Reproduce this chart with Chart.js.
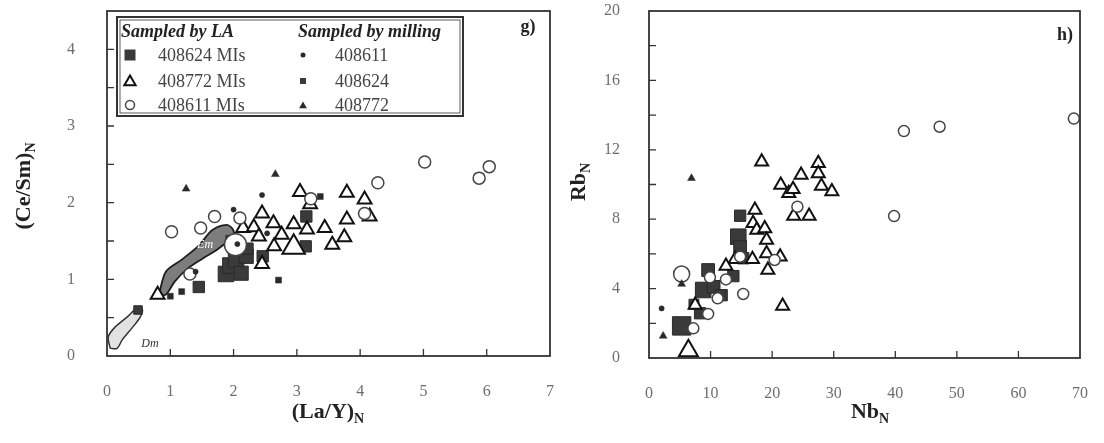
<!DOCTYPE html>
<html>
<head>
<meta charset="utf-8">
<script src="https://cdn.jsdelivr.net/npm/chart.js@4.4.1/dist/chart.umd.min.js"></script>
<style>
  html, body { margin: 0; padding: 0; background: #fff; }
  #wrap { position: relative; width: 1104px; height: 443px; }
  canvas { position: absolute; top: 0; }
</style>
</head>
<body>
<div id="wrap">
  <canvas id="chartG" width="560" height="443" style="left:0"></canvas>
  <canvas id="chartH" width="544" height="443" style="left:560px"></canvas>
</div>
<script>
// panel g) (La/Y)N vs (Ce/Sm)N
const gLa408624X = [0.49, 1.45, 1.88, 1.95, 2.04, 2.12, 2.20, 1.98, 2.22, 2.46, 3.15, 3.14];
const gLa408624Y = [0.60, 0.90, 1.07, 1.18, 1.25, 1.08, 1.30, 1.49, 1.40, 1.30, 1.82, 1.43];
const gLa408772X = [0.80, 2.15, 2.32, 2.40, 2.45, 2.45, 2.63, 2.64, 2.76, 2.95, 2.95, 3.05, 3.16, 3.21, 3.44, 3.56, 3.75, 3.79, 3.79, 4.07, 4.15];
const gLa408772Y = [0.80, 1.67, 1.68, 1.56, 1.86, 1.20, 1.73, 1.43, 1.58, 1.72, 1.42, 2.14, 1.65, 1.98, 1.67, 1.45, 1.55, 1.78, 2.13, 2.04, 1.82];
const gLa408611X = [1.02, 1.31, 1.48, 1.70, 2.03, 2.10, 3.22, 4.07, 4.28, 5.02, 5.88, 6.04];
const gLa408611Y = [1.62, 1.07, 1.67, 1.82, 1.45, 1.80, 2.05, 1.86, 2.26, 2.53, 2.32, 2.47];
const gMill408611X = [1.40, 2.00, 2.06, 2.45, 2.53];
const gMill408611Y = [1.10, 1.91, 1.46, 2.10, 1.60];
const gMill408624X = [1.00, 1.18, 2.71, 3.37];
const gMill408624Y = [0.78, 0.84, 0.99, 2.08];
const gMill408772X = [1.25, 2.66];
const gMill408772Y = [2.18, 2.37];
// outlines of the Em and Dm fields
const emX = [0.82, 0.93, 1.17, 1.45, 1.66, 1.89, 1.99, 2.00, 1.76, 1.49, 1.26, 1.07, 0.93, 0.82];
const emY = [0.80, 1.10, 1.25, 1.44, 1.64, 1.71, 1.65, 1.57, 1.40, 1.26, 1.13, 0.97, 0.80, 0.80];
const dmX = [0.05, 0.02, 0.13, 0.32, 0.48, 0.56, 0.52, 0.40, 0.24, 0.16, 0.05];
const dmY = [0.10, 0.25, 0.38, 0.51, 0.63, 0.60, 0.50, 0.37, 0.21, 0.10, 0.10];

// panel h) NbN vs RbN
const hLa408624X = [5.3, 7.3, 8.3, 8.8, 9.6, 10.5, 11.8, 13.7, 14.5, 14.8, 14.8, 15.3];
const hLa408624Y = [1.85, 3.10, 2.58, 3.92, 5.07, 4.10, 3.62, 4.72, 6.99, 8.20, 6.40, 5.75];
const hLa408772X = [18.3, 21.4, 22.7, 23.4, 24.7, 27.5, 27.5, 28.0, 29.7, 23.5, 26.0, 17.2, 16.9, 17.5, 18.8, 19.1, 19.1, 21.3, 16.8, 14.0, 12.5, 19.3, 21.7, 6.4, 7.5];
const hLa408772Y = [11.31, 9.97, 9.49, 9.72, 10.55, 11.22, 10.64, 9.91, 9.59, 8.18, 8.18, 8.53, 7.76, 7.38, 7.47, 6.80, 6.03, 5.84, 5.69, 5.69, 5.30, 5.07, 3.00, 0.42, 3.05];
const hLa408611X = [41.4, 47.2, 69.0, 39.8, 24.1, 20.4, 5.3, 9.9, 12.5, 15.3, 11.15, 9.6, 7.2, 14.8];
const hLa408611Y = [13.08, 13.33, 13.8, 8.18, 8.72, 5.65, 4.84, 4.65, 4.53, 3.69, 3.44, 2.54, 1.71, 5.84];
const hMill408611X = [2.05];
const hMill408611Y = [2.86];
const hMill408772X = [2.3, 5.3, 6.9];
const hMill408772Y = [1.27, 4.26, 10.36];

const SERIF = '"Liberation Serif", "Times New Roman", serif';
Chart.defaults.font.family = SERIF;

const pts = (xs, ys) => xs.map((x, i) => ({ x: x, y: ys[i] }));

function bigAt(n, base, big) {
  const r = new Array(n).fill(base);
  Object.keys(big).forEach(k => { r[k] = big[k]; });
  return r;
}

function drawSubText(ctx, main, sub, cx, base, size) {
  ctx.font = 'bold ' + size + 'px ' + SERIF;
  const w1 = ctx.measureText(main).width;
  ctx.font = 'bold ' + Math.round(size * 0.62) + 'px ' + SERIF;
  const w2 = ctx.measureText(sub).width;
  const x0 = cx - (w1 + w2) / 2;
  ctx.textAlign = 'left';
  ctx.textBaseline = 'alphabetic';
  ctx.font = 'bold ' + size + 'px ' + SERIF;
  ctx.fillText(main, x0, base);
  ctx.font = 'bold ' + Math.round(size * 0.62) + 'px ' + SERIF;
  ctx.fillText(sub, x0 + w1, base + 5);
}

function marker(ctx, kind, x, y, s) {
  ctx.beginPath();
  if (kind === 'sq') {
    ctx.rect(x - s, y - s, 2 * s, 2 * s);
    ctx.fillStyle = '#3a3a3a';
    ctx.fill();
  } else if (kind === 'tri' || kind === 'ftri') {
    ctx.moveTo(x, y - s);
    ctx.lineTo(x + s * 0.866, y + s * 0.5);
    ctx.lineTo(x - s * 0.866, y + s * 0.5);
    ctx.closePath();
    if (kind === 'ftri') { ctx.fillStyle = '#2a2a2a'; ctx.fill(); }
    else { ctx.lineWidth = 2; ctx.strokeStyle = '#111'; ctx.stroke(); }
  } else if (kind === 'circ') {
    ctx.arc(x, y, s, 0, Math.PI * 2);
    ctx.lineWidth = 1.5; ctx.strokeStyle = '#444'; ctx.stroke();
  } else if (kind === 'dot') {
    ctx.arc(x, y, s, 0, Math.PI * 2);
    ctx.fillStyle = '#2a2a2a'; ctx.fill();
  }
}

const framePlugin = {
  id: 'frame',
  afterDraw(chart, args, o) {
    const { ctx, chartArea: a } = chart;
    const x = chart.scales.x, y = chart.scales.y;
    ctx.save();
    // inward tick marks
    ctx.strokeStyle = '#333';
    ctx.lineWidth = 1.3;
    ctx.beginPath();
    x.ticks.forEach(t => {
      const px = x.getPixelForValue(t.value);
      if (px > a.left + 2 && px < a.right - 2) { ctx.moveTo(px, a.bottom); ctx.lineTo(px, a.bottom - 7); }
    });
    y.ticks.forEach(t => {
      const py = y.getPixelForValue(t.value);
      if (py > a.top + 2 && py < a.bottom - 2) { ctx.moveTo(a.left, py); ctx.lineTo(a.left + 7, py); }
    });
    ctx.stroke();
    // box
    ctx.lineWidth = 1.8;
    ctx.strokeRect(a.left, a.top, a.right - a.left, a.bottom - a.top);

    // axis titles
    ctx.fillStyle = '#222';
    drawSubText(ctx, o.xTitle[0], o.xTitle[1], o.xTitleX, o.xTitleY, 22);
    ctx.save();
    ctx.translate(o.yTitleX, o.yTitleY);
    ctx.rotate(-Math.PI / 2);
    drawSubText(ctx, o.yTitle[0], o.yTitle[1], 0, 8, 22);
    ctx.restore();

    // panel letter
    ctx.font = 'bold 18px ' + SERIF;
    ctx.textAlign = 'center';
    ctx.textBaseline = 'alphabetic';
    ctx.fillText(o.panel, o.panelX, o.panelY);

    // field labels
    (o.fieldLabels || []).forEach(f => {
      ctx.font = 'italic 12px ' + SERIF;
      ctx.fillStyle = f.color;
      ctx.textAlign = 'center';
      ctx.textBaseline = 'middle';
      ctx.fillText(f.text, x.getPixelForValue(f.x), y.getPixelForValue(f.y));
    });

    if (o.legend) {
      const L = 117, T = 17, R = 463, B = 116;
      ctx.fillStyle = '#fff';
      ctx.fillRect(L, T, R - L, B - T);
      ctx.strokeStyle = '#333';
      ctx.lineWidth = 2;
      ctx.strokeRect(L, T, R - L, B - T);
      ctx.lineWidth = 0.8;
      ctx.strokeRect(L + 3, T + 3, R - L - 6, B - T - 6);
      ctx.fillStyle = '#222';
      ctx.textAlign = 'left';
      ctx.textBaseline = 'alphabetic';
      ctx.font = 'bold italic 18px ' + SERIF;
      ctx.fillText('Sampled by LA', 121, 37);
      ctx.fillText('Sampled by milling', 298, 37);
      ctx.font = '18px ' + SERIF;
      ctx.fillStyle = '#444';
      const rows = [61, 87, 111];
      ['408624 MIs', '408772 MIs', '408611 MIs'].forEach((t, i) => ctx.fillText(t, 158, rows[i]));
      ['408611', '408624', '408772'].forEach((t, i) => ctx.fillText(t, 335, rows[i]));
      marker(ctx, 'sq', 130, 55, 5.5);
      marker(ctx, 'tri', 130, 82, 6.5);
      marker(ctx, 'circ', 130, 105, 4.5);
      marker(ctx, 'dot', 303, 55, 2.5);
      marker(ctx, 'sq', 303, 81, 3);
      marker(ctx, 'ftri', 303, 106, 4.5);
    }
    ctx.restore();
  }
};

function sqSet(data, r, order) {
  return { data: data, pointStyle: 'rect', pointRadius: r, pointBackgroundColor: '#3a3a3a',
    pointBorderColor: '#2a2a2a', pointBorderWidth: 1, order: order, clip: false };
}
function triSet(data, r, order) {
  return { data: data, pointStyle: 'triangle', pointRadius: r, pointBackgroundColor: '#fff',
    pointBorderColor: '#111', pointBorderWidth: 2, order: order, clip: false };
}
function circSet(data, r, order) {
  return { data: data, pointStyle: 'circle', pointRadius: r, pointBackgroundColor: '#fff',
    pointBorderColor: '#444', pointBorderWidth: 1.5, order: order, clip: false };
}
function smallSet(data, style, r, order) {
  return { data: data, pointStyle: style, pointRadius: r, pointBackgroundColor: '#2a2a2a',
    pointBorderColor: '#2a2a2a', pointBorderWidth: 0.5, order: order, clip: false };
}

function axisOpts(min, max, step, labelEvery, tickPad, fitSize, isY) {
  return {
    type: 'linear', min: min, max: max,
    grid: { display: false, drawTicks: false },
    border: { display: false },
    ticks: {
      stepSize: step, autoSkip: false, padding: tickPad, color: '#6e6e6e',
      font: { size: 16, family: SERIF },
      callback: v => (Math.abs(v / labelEvery - Math.round(v / labelEvery)) < 1e-6 ? String(v) : '')
    },
    afterFit: s => {
      if (isY) s.width = fitSize; else s.height = fitSize;
      // the tick padding should not push the plot box inward
      s.paddingTop = 0; s.paddingBottom = 0; s.paddingLeft = 0; s.paddingRight = 0;
    }
  };
}

function baseOptions(pad, xAxis, yAxis, frame) {
  return {
    responsive: false, animation: false, devicePixelRatio: 1,
    layout: { padding: pad, autoPadding: false },
    events: [],
    plugins: { legend: { display: false }, tooltip: { enabled: false }, frame: frame },
    scales: { x: xAxis, y: yAxis }
  };
}

new Chart(document.getElementById('chartG'), {
  type: 'scatter',
  data: {
    datasets: [
      smallSet(pts(gMill408611X, gMill408611Y), 'circle', 2.6, 0),
      smallSet(pts(gMill408624X, gMill408624Y), 'rect', 4.2, 0),
      smallSet(pts(gMill408772X, gMill408772Y), 'triangle', 4.5, 0),
      circSet(pts(gLa408611X, gLa408611Y), bigAt(gLa408611X.length, 6, { 4: 11 }), 1),
      triSet(pts(gLa408772X, gLa408772Y), bigAt(gLa408772X.length, 8, { 10: 13 }), 2),
      sqSet(pts(gLa408624X, gLa408624Y), [6, 8, 11, 11, 11, 10, 10, 9, 8, 8, 8, 8], 3),
      { type: 'line', data: pts(emX, emY), borderColor: '#1e1e1e', borderWidth: 1.8,
        backgroundColor: '#7d7d7d', fill: 'shape', tension: 0.3, pointRadius: 0, order: 4, clip: false },
      { type: 'line', data: pts(dmX, dmY), borderColor: '#333', borderWidth: 1.5,
        backgroundColor: '#e2e2e2', fill: 'shape', tension: 0.3, pointRadius: 0, order: 5, clip: false }
    ]
  },
  options: baseOptions({ left: 0, top: 11, right: 10, bottom: 0 },
    axisOpts(0, 7, 1, 1, 26, 87, false),
    axisOpts(0, 4.5, 0.5, 1, 32, 107, true),
    { xTitle: ['(La/Y)', 'N'], xTitleX: 328, xTitleY: 418,
      yTitle: ['(Ce/Sm)', 'N'], yTitleX: 22, yTitleY: 186,
      panel: 'g)', panelX: 528, panelY: 32, legend: true,
      fieldLabels: [{ text: 'Em', x: 1.55, y: 1.45, color: '#fff' }, { text: 'Dm', x: 0.68, y: 0.16, color: '#333' }] }),
  plugins: [framePlugin]
});

new Chart(document.getElementById('chartH'), {
  type: 'scatter',
  data: {
    datasets: [
      smallSet(pts(hMill408611X, hMill408611Y), 'circle', 2.6, 0),
      smallSet(pts(hMill408772X, hMill408772Y), 'triangle', 4.5, 0),
      circSet(pts(hLa408611X, hLa408611Y), bigAt(hLa408611X.length, 5.5, { 6: 8 }), 1),
      triSet(pts(hLa408772X, hLa408772Y), bigAt(hLa408772X.length, 7.5, { 23: 11 }), 2),
      sqSet(pts(hLa408624X, hLa408624Y), [13, 7, 8, 11, 9, 9, 8, 8, 11, 8, 9, 8], 3)
    ]
  },
  options: baseOptions({ left: 0, top: 11, right: 24, bottom: 0 },
    axisOpts(0, 70, 10, 10, 26, 85, false),
    axisOpts(0, 20, 2, 4, 29, 89, true),
    { xTitle: ['Nb', 'N'], xTitleX: 310, xTitleY: 418,
      yTitle: ['Rb', 'N'], yTitleX: 17, yTitleY: 182,
      panel: 'h)', panelX: 505, panelY: 40, legend: false }),
  plugins: [framePlugin]
});
</script>
</body>
</html>
